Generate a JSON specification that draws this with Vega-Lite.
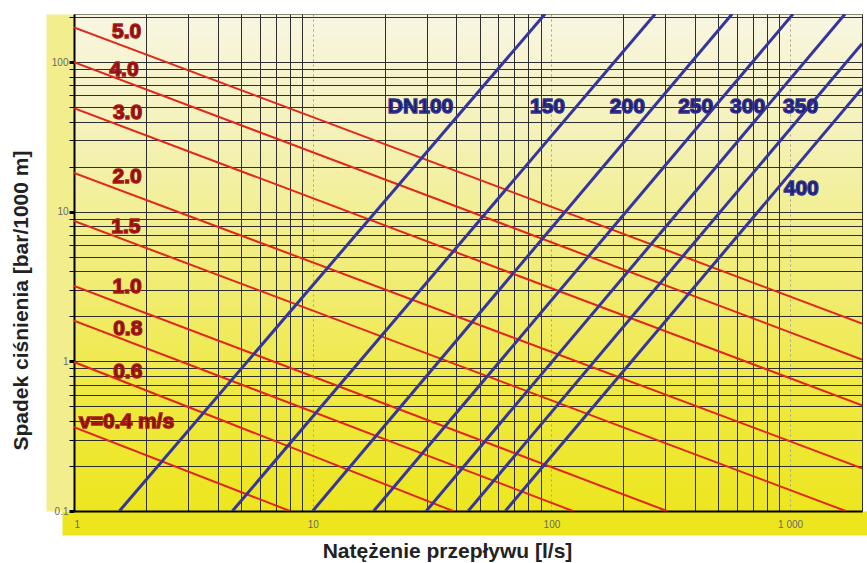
{
  "$schema": "https://vega.github.io/schema/vega-lite/v6.json",
  "width": 788,
  "height": 497,
  "autosize": {"type": "none"},
  "padding": {"left": 74, "top": 14, "right": 5, "bottom": 52},
  "background": "white",
  "config": {
    "font": "Liberation Sans",
    "view": {
      "fill": {"gradient": "linear", "x1": 0, "y1": 0, "x2": 0, "y2": 1,
        "stops": [
          {"offset": 0, "color": "#f8f6e2"},
          {"offset": 0.25, "color": "#f4f1b6"},
          {"offset": 0.5, "color": "#f1ed7c"},
          {"offset": 0.75, "color": "#efe944"},
          {"offset": 1, "color": "#ede61e"}
        ]},
      "stroke": "#8a8a70",
      "strokeWidth": 1
    }
  },
  "datasets": {
    "lines": [
      {"id": "v5.0", "kind": "v", "q": 1, "dp": 171},
      {"id": "v5.0", "kind": "v", "q": 2000, "dp": 1.79},
      {"id": "v4.0", "kind": "v", "q": 1, "dp": 100},
      {"id": "v4.0", "kind": "v", "q": 2000, "dp": 1.03},
      {"id": "v3.0", "kind": "v", "q": 1, "dp": 49.3},
      {"id": "v3.0", "kind": "v", "q": 2000, "dp": 0.508},
      {"id": "v2.0", "kind": "v", "q": 1, "dp": 18.2},
      {"id": "v2.0", "kind": "v", "q": 2000, "dp": 0.193},
      {"id": "v1.5", "kind": "v", "q": 1, "dp": 8.7},
      {"id": "v1.5", "kind": "v", "q": 1710, "dp": 0.1},
      {"id": "v1.0", "kind": "v", "q": 1, "dp": 3.2},
      {"id": "v1.0", "kind": "v", "q": 305, "dp": 0.1},
      {"id": "v0.8", "kind": "v", "q": 1, "dp": 1.87},
      {"id": "v0.8", "kind": "v", "q": 123, "dp": 0.1},
      {"id": "v0.6", "kind": "v", "q": 1, "dp": 0.99},
      {"id": "v0.6", "kind": "v", "q": 38.7, "dp": 0.1},
      {"id": "v0.4", "kind": "v", "q": 1, "dp": 0.363},
      {"id": "v0.4", "kind": "v", "q": 8.03, "dp": 0.1},
      {"id": "DN100", "kind": "dn", "q": 1.55, "dp": 0.1},
      {"id": "DN100", "kind": "dn", "q": 94, "dp": 210},
      {"id": "DN150", "kind": "dn", "q": 4.61, "dp": 0.1},
      {"id": "DN150", "kind": "dn", "q": 272, "dp": 210},
      {"id": "DN200", "kind": "dn", "q": 10, "dp": 0.1},
      {"id": "DN200", "kind": "dn", "q": 571, "dp": 210},
      {"id": "DN250", "kind": "dn", "q": 18, "dp": 0.1},
      {"id": "DN250", "kind": "dn", "q": 1028, "dp": 210},
      {"id": "DN300", "kind": "dn", "q": 29.9, "dp": 0.1},
      {"id": "DN300", "kind": "dn", "q": 1698, "dp": 210},
      {"id": "DN350", "kind": "dn", "q": 44.8, "dp": 0.1},
      {"id": "DN350", "kind": "dn", "q": 2000, "dp": 133},
      {"id": "DN400", "kind": "dn", "q": 64.1, "dp": 0.1},
      {"id": "DN400", "kind": "dn", "q": 2000, "dp": 66.7}
    ],
    "labels": [
      {"text": "5.0", "kind": "v", "q": 1.66, "dp": 160},
      {"text": "4.0", "kind": "v", "q": 1.62, "dp": 89.3},
      {"text": "3.0", "kind": "v", "q": 1.675, "dp": 45.8},
      {"text": "2.0", "kind": "v", "q": 1.67, "dp": 17.1},
      {"text": "1.5", "kind": "v", "q": 1.65, "dp": 7.92},
      {"text": "1.0", "kind": "v", "q": 1.67, "dp": 3.15},
      {"text": "0.8", "kind": "v", "q": 1.68, "dp": 1.65},
      {"text": "0.6", "kind": "v", "q": 1.68, "dp": 0.851},
      {"text": "v=0.4 m/s", "kind": "v", "q": 1.66, "dp": 0.394},
      {"text": "DN100", "kind": "dn", "q": 28.3, "dp": 50.1},
      {"text": "150", "kind": "dn", "q": 96.3, "dp": 50.1},
      {"text": "200", "kind": "dn", "q": 208, "dp": 50.1},
      {"text": "250", "kind": "dn", "q": 402, "dp": 50.1},
      {"text": "300", "kind": "dn", "q": 663, "dp": 50.1},
      {"text": "350", "kind": "dn", "q": 1106, "dp": 50.1},
      {"text": "400", "kind": "dn", "q": 1113, "dp": 14.2}
    ]
  },
  "resolve": {"axis": {"x": "independent", "y": "independent"}},
  "layer": [
    {
      "data": {"name": "lines"},
      "mark": {"type": "point", "opacity": 0},
      "encoding": {
        "x": {
          "field": "q", "type": "quantitative",
          "scale": {"type": "log", "domain": [1, 2000], "nice": false},
          "axis": {"orient": "bottom", "offset": 12, "grid": false, "ticks": false, "labels": false, "title": null,
            "domain": true, "domainColor": "#ede61e", "domainWidth": 24, "domainCap": "square"}
        },
        "y": {
          "field": "dp", "type": "quantitative",
          "scale": {"type": "log", "domain": [0.1, 210], "nice": false},
          "axis": {"orient": "left", "offset": 14, "grid": false, "ticks": false, "labels": false, "title": null,
            "domain": true, "domainColor": "#f2ee8e", "domainWidth": 28, "domainCap": "butt"}
        }
      }
    },
    {
      "encoding": {
        "x": {
          "field": "q", "type": "quantitative",
          "scale": {"type": "log", "domain": [1, 2000], "nice": false},
          "axis": {
            "orient": "bottom",
            "title": "Natężenie przepływu [l/s]",
            "values": [1,2,3,4,5,6,7,8,9,10,20,30,40,50,60,70,80,90,100,200,300,400,500,600,700,800,900,1000,2000],
            "grid": true,
            "gridColor": {"condition": {"test": "abs(log(datum.value)/LN10 - round(log(datum.value)/LN10)) < 0.001 && datum.value > 1", "value": "#a0a090"}, "value": "#2e2e2e"},
            "gridDash": {"condition": {"test": "abs(log(datum.value)/LN10 - round(log(datum.value)/LN10)) < 0.001 && datum.value > 1", "value": [2, 3]}, "value": []},
            "gridWidth": 1,
            "ticks": false,
            "domainColor": "#000000",
            "domainWidth": 2,
            "labelOverlap": false,
            "labelExpr": "abs(log(datum.value)/LN10 - round(log(datum.value)/LN10)) < 0.001 ? (datum.value >= 1000 ? '1 000' : format(datum.value, '~g')) : ''",
            "labelFontSize": 10,
            "labelColor": "#6a6a6a",
            "labelPadding": 8,
            "titleFontSize": 21,
            "titleFontWeight": "bold",
            "titleColor": "#222222",
            "titleX": 373,
            "titleY": 40,
            "titleAlign": "center",
            "titleBaseline": "middle"
          }
        },
        "y": {
          "field": "dp", "type": "quantitative",
          "scale": {"type": "log", "domain": [0.1, 210], "nice": false},
          "axis": {
            "orient": "left",
            "title": "Spadek ciśnienia [bar/1000 m]",
            "values": [0.1,0.2,0.3,0.4,0.5,0.6,0.7,0.8,0.9,1,2,3,4,5,6,7,8,9,10,20,30,40,50,60,70,80,90,100,200],
            "grid": true,
            "gridColor": "#2e2e2e",
            "gridWidth": 1,
            "ticks": true,
            "tickColor": "#000000",
            "tickSize": 5,
            "tickWidth": {"condition": {"test": "abs(log(datum.value)/LN10 - round(log(datum.value)/LN10)) < 0.001", "value": 3}, "value": 1},
            "domainColor": "#000000",
            "domainWidth": 2,
            "labelOverlap": false,
            "labelExpr": "abs(log(datum.value)/LN10 - round(log(datum.value)/LN10)) < 0.001 ? format(datum.value, '~g') : ''",
            "labelFontSize": 10,
            "labelColor": "#6a6a6a",
            "labelPadding": 1,
            "titleFontSize": 21,
            "titleFontWeight": "bold",
            "titleColor": "#222222",
            "titleAngle": -90,
            "titleX": -53,
            "titleY": 286,
            "titleAlign": "center",
            "titleBaseline": "middle"
          }
        }
      },
      "layer": [
        {
          "data": {"name": "lines"},
          "transform": [{"filter": "datum.kind == 'v'"}],
          "mark": {"type": "line", "color": "#e3261b", "strokeWidth": 2, "clip": true},
          "encoding": {"detail": {"field": "id"}}
        },
        {
          "data": {"name": "lines"},
          "transform": [{"filter": "datum.kind == 'dn'"}],
          "mark": {"type": "line", "color": "#35359f", "strokeWidth": 3, "clip": true},
          "encoding": {"detail": {"field": "id"}}
        },
        {
          "data": {"name": "labels"},
          "transform": [{"filter": "datum.kind == 'v'"}],
          "mark": {"type": "text", "font": "Liberation Sans", "fontWeight": "bold", "fontSize": 21, "align": "center", "baseline": "middle", "color": "#7e0c0c", "stroke": "#a81c1c", "strokeWidth": 1.4},
          "encoding": {"text": {"field": "text"}}
        },
        {
          "data": {"name": "labels"},
          "transform": [{"filter": "datum.kind == 'dn'"}],
          "mark": {"type": "text", "font": "Liberation Sans", "fontWeight": "bold", "fontSize": 21, "align": "center", "baseline": "middle", "color": "#1a1a66", "stroke": "#33338f", "strokeWidth": 1.4},
          "encoding": {"text": {"field": "text"}}
        }
      ]
    }
  ]
}
